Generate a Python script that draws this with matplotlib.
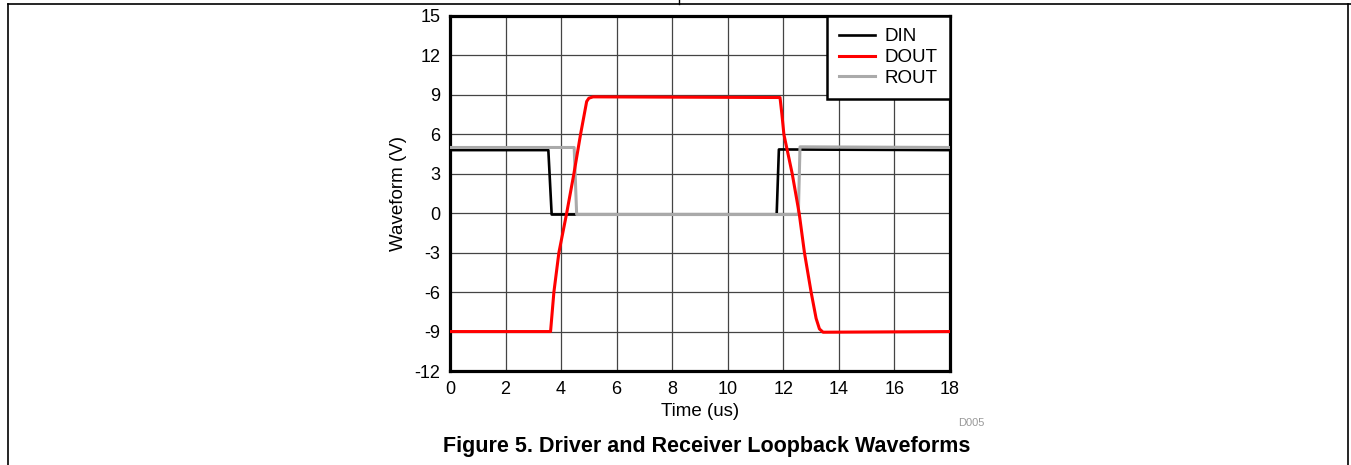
import matplotlib
matplotlib.use("Agg")
import matplotlib.pyplot as plt
from matplotlib.lines import Line2D

plt.rcParams['font.family'] = ['Liberation Sans', 'DejaVu Sans']
plt.rcParams['axes.unicode_minus'] = False

# waveform data (time in us, volts)
din_t = [0, 3.54, 3.66, 11.76, 11.84, 18]
din_v = [4.8, 4.8, -0.1, -0.1, 4.85, 4.8]

rout_t = [0, 4.47, 4.56, 12.54, 12.6, 18]
rout_v = [5.0, 5.0, -0.1, -0.1, 5.05, 5.0]

dout_t = [0, 3.62, 3.74, 3.92, 4.2, 4.46, 4.7, 4.92, 5.0, 5.15,
          11.88, 11.95, 12.02, 12.32, 12.57, 12.76, 13.0, 13.18, 13.3, 13.43, 18]
dout_v = [-9, -9, -6, -3, 0, 3, 6, 8.5, 8.75, 8.85,
          8.8, 7.5, 6, 3, 0, -3, -6, -8, -8.8, -9.05, -9]

x_ticks = list(range(0, 19, 2))
y_ticks = list(range(-12, 16, 3))

fig = plt.figure(figsize=[13.51, 4.65], dpi=100)
ax = fig.add_axes([450 / 1351, 1 - 371 / 465, 500 / 1351, 355 / 465])

ax.plot(din_t, din_v, color='black', linewidth=1.9, label='DIN', zorder=3)
ax.plot(dout_t, dout_v, color='#ff0000', linewidth=2.2, label='DOUT', zorder=5)
ax.plot(rout_t, rout_v, color='#aaaaaa', linewidth=2.2, label='ROUT', zorder=4)

ax.set_xlim(0, 18)
ax.set_ylim(-12, 15)
ax.set_xticks(x_ticks)
ax.set_yticks(y_ticks)
ax.tick_params(length=0, labelsize=13, pad=7)
ax.grid(True, color='#444444', linewidth=0.9)
ax.set_axisbelow(True)
for s in ax.spines.values():
    s.set_linewidth(2.3)

ax.set_xlabel("Time (us)", fontsize=13.5, labelpad=4)
ax.set_ylabel("Waveform (V)", fontsize=13.5, labelpad=5)

leg = ax.legend(loc='upper right', fontsize=13.5, fancybox=False, framealpha=1,
                edgecolor='black', borderaxespad=0, handlelength=1.9,
                handletextpad=0.55, labelspacing=0.2, borderpad=0.65)
leg.get_frame().set_linewidth(1.8)

fig.text(958 / 1351, 1 - 423 / 465, "D005", fontsize=8, color='#999999',
         ha='left', va='center')
fig.text(707 / 1351, 1 - 446 / 465, "Figure 5. Driver and Receiver Loopback Waveforms",
         fontsize=15.5, fontweight='bold', ha='center', va='center')

# page frame lines
fig.add_artist(Line2D([8 / 1351, 1], [1 - 4 / 465, 1 - 4 / 465], color='black', linewidth=1.2))
fig.add_artist(Line2D([8 / 1351, 8 / 1351], [0, 1 - 4 / 465], color='black', linewidth=1.2))
fig.add_artist(Line2D([1348 / 1351, 1348 / 1351], [0, 1 - 4 / 465], color='black', linewidth=1.2))
fig.add_artist(Line2D([679 / 1351, 679 / 1351], [1 - 4 / 465, 1], color='black', linewidth=1.0))

fig.savefig('out.png', dpi=100)
